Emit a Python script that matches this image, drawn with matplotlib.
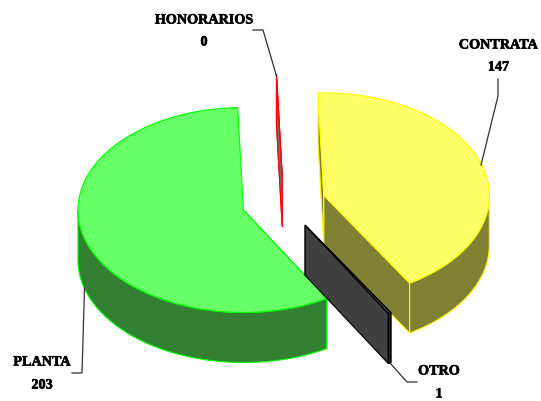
import numpy as np
import matplotlib
matplotlib.use("Agg")
import matplotlib.pyplot as plt
import matplotlib.patheffects as pe
from matplotlib.patches import Polygon

# Data
categories = ["CONTRATA", "OTRO", "PLANTA", "HONORARIOS"]
values = [147, 1, 203, 0]

# Styles
top_colors = {"CONTRATA": "#ffff66", "OTRO": "#404040", "PLANTA": "#66ff66", "HONORARIOS": "#ff3333"}
wall_colors = {"CONTRATA": "#808033", "OTRO": "#404040", "PLANTA": "#338033", "HONORARIOS": "#707070"}
rim_colors = {"CONTRATA": "#808033", "OTRO": "#262626", "PLANTA": "#338033", "HONORARIOS": "#707070"}
edge_colors = {"CONTRATA": "#ffff00", "OTRO": "#000000", "PLANTA": "#00ff00", "HONORARIOS": "#ff0000"}
draw_order = ["HONORARIOS", "CONTRATA", "PLANTA", "OTRO"]
label_pos = {"CONTRATA": (498.5, 45, 67), "OTRO": (439, 371, 394),
             "PLANTA": (42, 362, 385), "HONORARIOS": (204, 20, 42)}
leaders = {"CONTRATA": [(498, 79), (498, 96), (481, 165)],
           "OTRO": [(390, 363), (407, 382), (417, 382)],
           "PLANTA": [(72, 373), (82, 373), (84.5, 288)],
           "HONORARIOS": [(253, 30), (263, 30), (276.5, 76)]}

# Pie geometry (pixel space of the figure)
CX, CY = 283.7, 202.8
RX, RY = 165.5, 102.5
DEPTH = 50
EXPLODE = 0.253
START = -92.0
LW = 0.8

fig = plt.figure(figsize=(5.41, 4.01), dpi=100, facecolor="white")
ax = fig.add_axes([0, 0, 1, 1])
ax.set_xlim(0, 541)
ax.set_ylim(401, 0)
ax.axis("off")


def pt(apex, deg, dz=0.0):
    a = np.radians(deg)
    return apex[0] + RX * np.cos(a), apex[1] + RY * np.sin(a) + dz


total = sum(values)
spans = {}
cur = START
for name, v in zip(categories, values):
    spans[name] = (cur, cur + v / total * 360)
    cur += v / total * 360

for name in draw_order:
    a0, a1 = spans[name]
    mid = np.radians((a0 + a1) / 2)
    apex = (CX + EXPLODE * RX * np.cos(mid), CY + EXPLODE * RY * np.sin(mid))
    edge = edge_colors[name]
    # radial walls
    for ang in (a0, a1):
        x, y = pt(apex, ang)
        if name == "PLANTA" and ang == a1:
            continue
        wall = [apex, (x, y), (x, y + DEPTH), (apex[0], apex[1] + DEPTH)]
        ax.add_patch(Polygon(wall, closed=True, facecolor=wall_colors[name],
                             edgecolor=edge, linewidth=LW))
    # outer rim, the part that faces the viewer
    lo, hi = max(a0, 0), min(a1, 180)
    if hi > lo:
        t = np.linspace(lo, hi, 120)
        upper = [pt(apex, d) for d in t]
        lower = [pt(apex, d, DEPTH) for d in t[::-1]]
        ax.add_patch(Polygon(upper + lower, closed=True, facecolor=rim_colors[name],
                             edgecolor=edge, linewidth=LW))
    # top face
    t = np.linspace(a0, a1, 200)
    ax.add_patch(Polygon([apex] + [pt(apex, d) for d in t], closed=True,
                         facecolor=top_colors[name], edgecolor=edge, linewidth=LW))

stroke = [pe.withStroke(linewidth=0.45, foreground="black")]
for name, v in zip(categories, values):
    xs, ys = zip(*leaders[name])
    ax.plot(xs, ys, color="#303030", lw=0.9, solid_joinstyle="miter")
    x, y1, y2 = label_pos[name]
    for yy, s in ((y1, name), (y2, str(v))):
        ax.text(x, yy, s, ha="center", va="center", family="Liberation Serif",
                weight="bold", fontsize=10.2, color="black", path_effects=stroke)

fig.savefig("out.png", dpi=100, facecolor="white")
